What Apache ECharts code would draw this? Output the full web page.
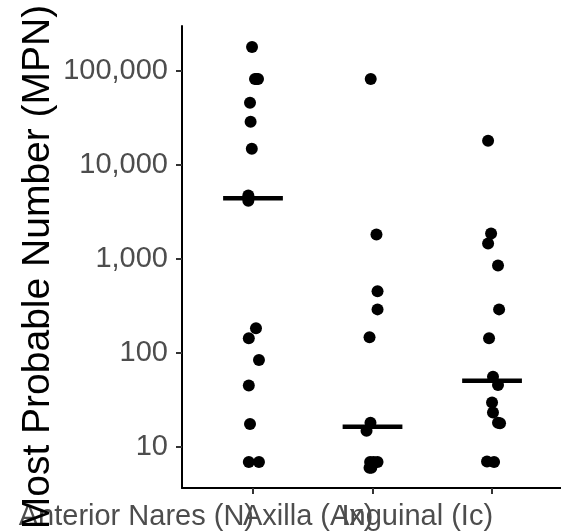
<!DOCTYPE html>
<html>
<head>
<meta charset="utf-8">
<script src="https://cdn.jsdelivr.net/npm/echarts@6/dist/echarts.min.js"></script>
<style>
  html, body { margin: 0; padding: 0; background: #ffffff; }
  #chart { width: 561px; height: 531px; }
</style>
</head>
<body>
<div id="chart"></div>
<script>
// Sampling sites along the x axis
const sites = ['Anterior Nares (N)', 'Axilla (Ax)', 'Inguinal (Ic)'];

// Most probable number per sample, one list per site
const naresMPN    = [178700, 81800, 81800, 81800, 45600, 28600, 14800, 4700, 4150, 183, 143, 84, 45, 17.5, 6.9, 6.9];
const axillaMPN   = [81800, 1816, 451, 290, 147, 18.1, 14.9, 6.9, 6.9, 6.9, 6.0, 6.0];
const inguinalMPN = [18000, 1858, 1455, 851, 290, 143, 55.8, 45.6, 29.6, 23.2, 18.1, 17.9, 7.0, 6.9];

// Horizontal jitter (in category units) for each point
const naresJitter    = [-0.008, 0.017, 0.042, 0.03, -0.025, -0.02, -0.01, -0.039, -0.039, 0.025, -0.035, 0.05, -0.035, -0.025, -0.035, 0.05];
const axillaJitter   = [-0.015, 0.033, 0.042, 0.042, -0.025, -0.017, -0.05, -0.02, 0.042, 0.01, -0.025, -0.01];
const inguinalJitter = [-0.033, -0.008, -0.033, 0.05, 0.059, -0.025, 0.008, 0.05, 0, 0.008, 0.05, 0.067, -0.042, 0.017];

// Tick values on the log axis
const yTicks = [10, 100, 1000, 10000, 100000];
const yMin = 3.66;
const yMax = 298500;
const yTitle = 'Most Probable Number (MPN)';

const groups = [
  { values: naresMPN, jitter: naresJitter },
  { values: axillaMPN, jitter: axillaJitter },
  { values: inguinalMPN, jitter: inguinalJitter }
];

// Median taken on the log scale (middle pair averaged in log space)
function logMedian(vals) {
  const l = vals.map(v => Math.log10(v)).sort((a, b) => a - b);
  const n = l.length;
  const m = n % 2 ? l[(n - 1) / 2] : (l[n / 2 - 1] + l[n / 2]) / 2;
  return Math.pow(10, m);
}

const points = [];
const medians = [];
groups.forEach((g, i) => {
  g.values.forEach((v, j) => points.push([i + 1 + g.jitter[j], v]));
  medians.push([i + 1, logMedian(g.values)]);
});

const FONT = '"Liberation Sans", Arial, Helvetica, sans-serif';
const chart = echarts.init(document.getElementById('chart'), null, { renderer: 'canvas' });

chart.setOption({
  animation: false,
  backgroundColor: '#ffffff',
  grid: { left: 182, right: 0, top: 26, bottom: 43, containLabel: false, outerBoundsMode: 'none' },
  graphic: [
    {
      // Vertical axis title
      type: 'text',
      x: 38,
      y: 267,
      rotation: Math.PI / 2,
      z: 10,
      style: {
        text: yTitle,
        align: 'center',
        verticalAlign: 'middle',
        fontSize: 39,
        fontFamily: FONT,
        fill: '#000000'
      }
    }
  ],
  xAxis: {
    type: 'value',
    min: 0.406,
    max: 3.577,
    splitLine: { show: false },
    axisLine: { show: true, onZero: false, lineStyle: { color: '#000000', width: 2 } },
    axisTick: { show: true, customValues: [1, 2, 3], length: 6, lineStyle: { color: '#333333', width: 2 } },
    axisLabel: { show: false }
  },
  yAxis: {
    type: 'log',
    logBase: 10,
    min: yMin,
    max: yMax,
    splitLine: { show: false },
    axisLine: { show: true, onZero: false, lineStyle: { color: '#000000', width: 2 } },
    axisTick: { show: true, customValues: yTicks, length: 6, lineStyle: { color: '#333333', width: 2 } },
    axisLabel: {
      show: true,
      customValues: yTicks,
      formatter: v => Math.round(v).toLocaleString('en-US'),
      margin: 14,
      fontSize: 29,
      fontFamily: FONT,
      color: '#4D4D4D'
    }
  },
  series: [
    {
      type: 'scatter',
      data: points,
      symbol: 'circle',
      symbolSize: 12,
      itemStyle: { color: '#000000', opacity: 1 },
      z: 2
    },
    {
      type: 'custom',
      data: medians,
      z: 3,
      renderItem: function (params, api) {
        const x = api.value(0);
        const m = api.value(1);
        const a = api.coord([x - 0.25, m]);
        const b = api.coord([x + 0.25, m]);
        return {
          type: 'line',
          shape: { x1: a[0], y1: a[1], x2: b[0], y2: b[1] },
          style: { stroke: '#000000', lineWidth: 4.5 }
        };
      }
    },
    {
      // Site names under the x axis, right-aligned to each tick
      type: 'custom',
      data: sites.map((s, i) => [i + 1, yMin]),
      clip: false,
      silent: true,
      z: 4,
      renderItem: function (params, api) {
        const p = api.coord([api.value(0), api.value(1)]);
        return {
          type: 'text',
          x: p[0] + 1,
          y: p[1] + 14,
          style: {
            text: sites[params.dataIndex],
            align: 'right',
            verticalAlign: 'top',
            fontSize: 29,
            fontFamily: FONT,
            fill: '#4D4D4D'
          }
        };
      }
    }
  ]
});
</script>
</body>
</html>
